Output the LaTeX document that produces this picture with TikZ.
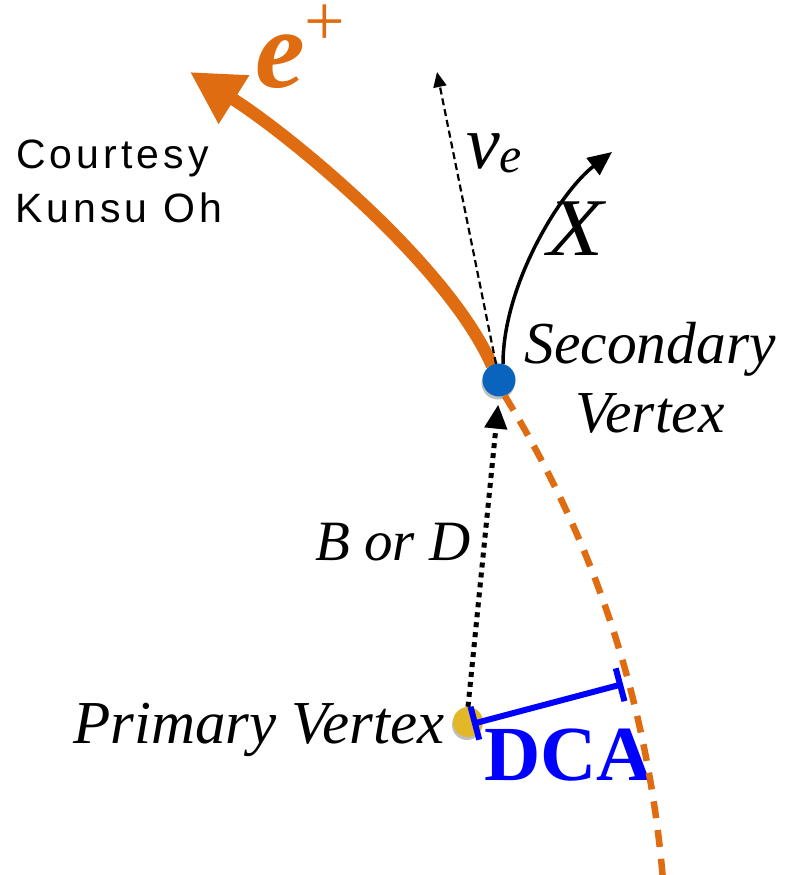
\documentclass[tikz,border=0pt]{standalone}
\usepackage{fontspec}
\setmainfont{Liberation Serif}
\newfontfamily\cfont[LetterSpace=10]{Liberation Sans}
\usetikzlibrary{arrows.meta,shadows}
\definecolor{eorange}{RGB}{224,108,18}
\definecolor{svblue}{RGB}{10,100,190}
\definecolor{pvyellow}{RGB}{226,184,40}
\definecolor{dcablue}{RGB}{0,0,255}
\newcommand{\fsz}[1]{\fontsize{#1}{#1}\selectfont}
\begin{document}
\begin{tikzpicture}[x=1pt,y=-1pt,
  lbl/.style={inner sep=0pt},
  vtx/.style={circle, inner sep=0pt, minimum size=#1,
    drop shadow={shadow xshift=-1pt, shadow yshift=-3pt, opacity=0.25, fill=black}},
  etrack/.style={draw=eorange, line width=12.5pt, -{Triangle[length=52pt,width=54pt]}},
  etrackdash/.style={draw=eorange, line width=6.5pt, dash pattern=on 17pt off 12pt},
  nutrack/.style={draw=black, line width=2.2pt, dash pattern=on 7pt off 4pt, -{Triangle[length=15pt,width=13pt]}},
  xtrack/.style={draw=black, line width=3.5pt, -{Triangle[length=24pt,width=21pt]}},
  mesontrack/.style={draw=black, line width=5pt, dash pattern=on 5pt off 5pt, -{Triangle[length=24pt,width=22pt]}},
  dcabar/.style={draw=dcablue, line width=6pt, {Bar[width=34pt]}-{Bar[width=34pt]}}
]
\useasboundingbox (0,0) rectangle (789,875);
\fill[white] (0,0) rectangle (789,875);

% vertex positions
\coordinate (svpos) at (499,380);
\coordinate (pvpos) at (468,722);
\coordinate (etip) at (190,72);
\coordinate (nutip) at (437,72);
\coordinate (xtip) at (612,152);
\coordinate (dashend) at (663,880);
\coordinate (dcaend) at (623,684);

% tracks leaving the secondary vertex
\draw[etrack] (492,365.5) .. controls (448,265) and (290,135) .. (etip);
\draw[nutrack] (496,364) -- (nutip);
\draw[xtrack] (503,364) .. controls (503,285) and (560,192) .. (xtip);

% vertices
\node[vtx=30pt, fill=pvyellow] (pv) at (pvpos) {};
\node[vtx=33pt, fill=svblue] (sv) at (svpos) {};

% B or D flight
\draw[mesontrack, shorten >=8pt] (pv.north) -- (sv.south);

% DCA
\draw[dcabar] (472,724) -- (dcaend);
\node[lbl, anchor=base west, text=dcablue, font=\fsz{78}\bfseries] (dca) at (484,780) {DCA};

% extrapolated e+ track
\draw[etrackdash] (sv.-70) .. controls (595,543) and (648,703) .. (dashend);

% labels
\node[lbl, anchor=base west, text=eorange, font=\fsz{112}\bfseries\itshape] (elabel) at (255,88)
  {e\smash{\raisebox{42pt}{\fsz{72}\mdseries\upshape +}}};
\node[lbl, anchor=base west, font=\fsz{76}\itshape] (nulabel) at (466,168)
  {ν\raisebox{-4pt}{\fsz{50}e}};
\node[lbl, anchor=base west, font=\fsz{82}\itshape] (xlabel) at (547,255) {\scalebox{1.12}[1]{X}};
\node[lbl, anchor=base west, font=\cfont\fsz{41}] (court1) at (16,168) {Courtesy};
\node[lbl, anchor=base west, font=\cfont\fsz{41}] (court2) at (15,222) {Kunsu Oh};
\node[lbl, anchor=base, font=\fsz{59.5}\itshape] (sec1) at (650,363) {Secondary};
\node[lbl, anchor=base, font=\fsz{59.5}\itshape] (sec2) at (650,432) {Vertex};
\node[lbl, anchor=base west, font=\fsz{57}\itshape] (bord) at (315,560) {B or D};
\node[lbl, anchor=base west, font=\fsz{61}\itshape] (prim) at (73,743) {Primary Vertex};
\end{tikzpicture}
\end{document}
